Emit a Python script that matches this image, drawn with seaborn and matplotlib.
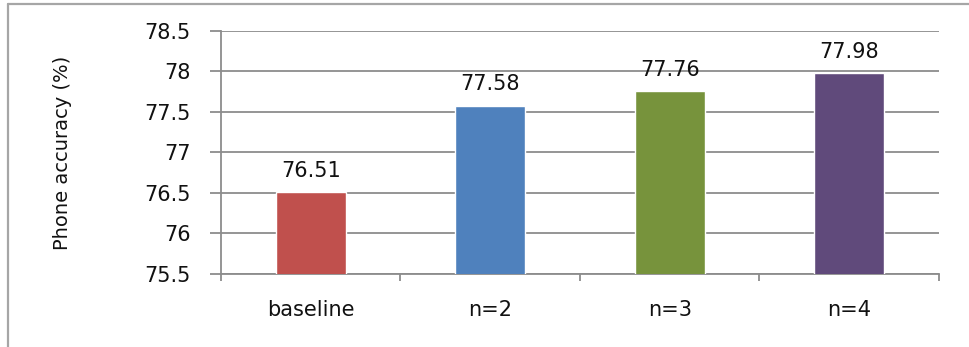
import matplotlib
matplotlib.use("Agg")
import matplotlib.pyplot as plt
import seaborn as sns
import pandas as pd
from matplotlib.lines import Line2D

categories = ["baseline", "n=2", "n=3", "n=4"]
values = [76.51, 77.58, 77.76, 77.98]
bar_colors = ["#C0504D", "#4F81BD", "#77933C", "#604A7B"]
y_ticks = [75.5, 76, 76.5, 77, 77.5, 78, 78.5]
y_tick_labels = ["75.5", "76", "76.5", "77", "77.5", "78", "78.5"]
y_label = "Phone accuracy (%)"

sns.set_style("white")
plt.rcParams["font.family"] = ["DejaVu Sans"]

df = pd.DataFrame({"cat": categories, "val": values})

fig = plt.figure(figsize=(9.7, 3.47), dpi=100)
ax = fig.add_axes([221 / 970, 1 - 274 / 347, (939 - 221) / 970, (274 - 31) / 347])

sns.barplot(data=df, x="cat", y="val", hue="cat", palette=bar_colors,
            legend=False, width=0.39, ax=ax, saturation=1, zorder=3)

ax.set_ylim(75.5, 78.5)
ax.set_xlim(-0.5, 3.5)
ax.set_yticks(y_ticks)
ax.set_yticklabels(y_tick_labels)
grid_c = "#8c8c8c"
ax.yaxis.grid(True, color=grid_c, linewidth=1.3, zorder=0)
ax.set_axisbelow(True)

for s in ["top", "right"]:
    ax.spines[s].set_visible(False)
for s in ["left", "bottom"]:
    ax.spines[s].set_color(grid_c)
    ax.spines[s].set_linewidth(1.3)

ax.tick_params(axis="y", which="major", direction="out", length=8, width=1.3,
               color=grid_c, pad=14, labelsize=15, labelcolor="#111111", left=True)
ax.set_xticks([-0.5, 0.5, 1.5, 2.5, 3.5], minor=True)
ax.tick_params(axis="x", which="minor", direction="out", length=5, width=1.3,
               color=grid_c, bottom=True)
ax.tick_params(axis="x", which="major", length=0, pad=19, labelsize=15,
               labelcolor="#111111")

ax.set_xlabel("")
ax.set_ylabel(y_label, fontsize=14, color="#111111", labelpad=52)

for cont in ax.containers:
    ax.bar_label(cont, fmt="%.2f", padding=8, fontsize=15, color="#111111")

# outer chart border (left and top visible)
fig.add_artist(Line2D([8 / 970, 8 / 970], [0, 1 - 4 / 347], color="#a6a6a6",
                      linewidth=1.6, transform=fig.transFigure))
fig.add_artist(Line2D([8 / 970, 1], [1 - 4 / 347, 1 - 4 / 347], color="#a6a6a6",
                      linewidth=1.6, transform=fig.transFigure))

fig.savefig("out.png", dpi=100)
